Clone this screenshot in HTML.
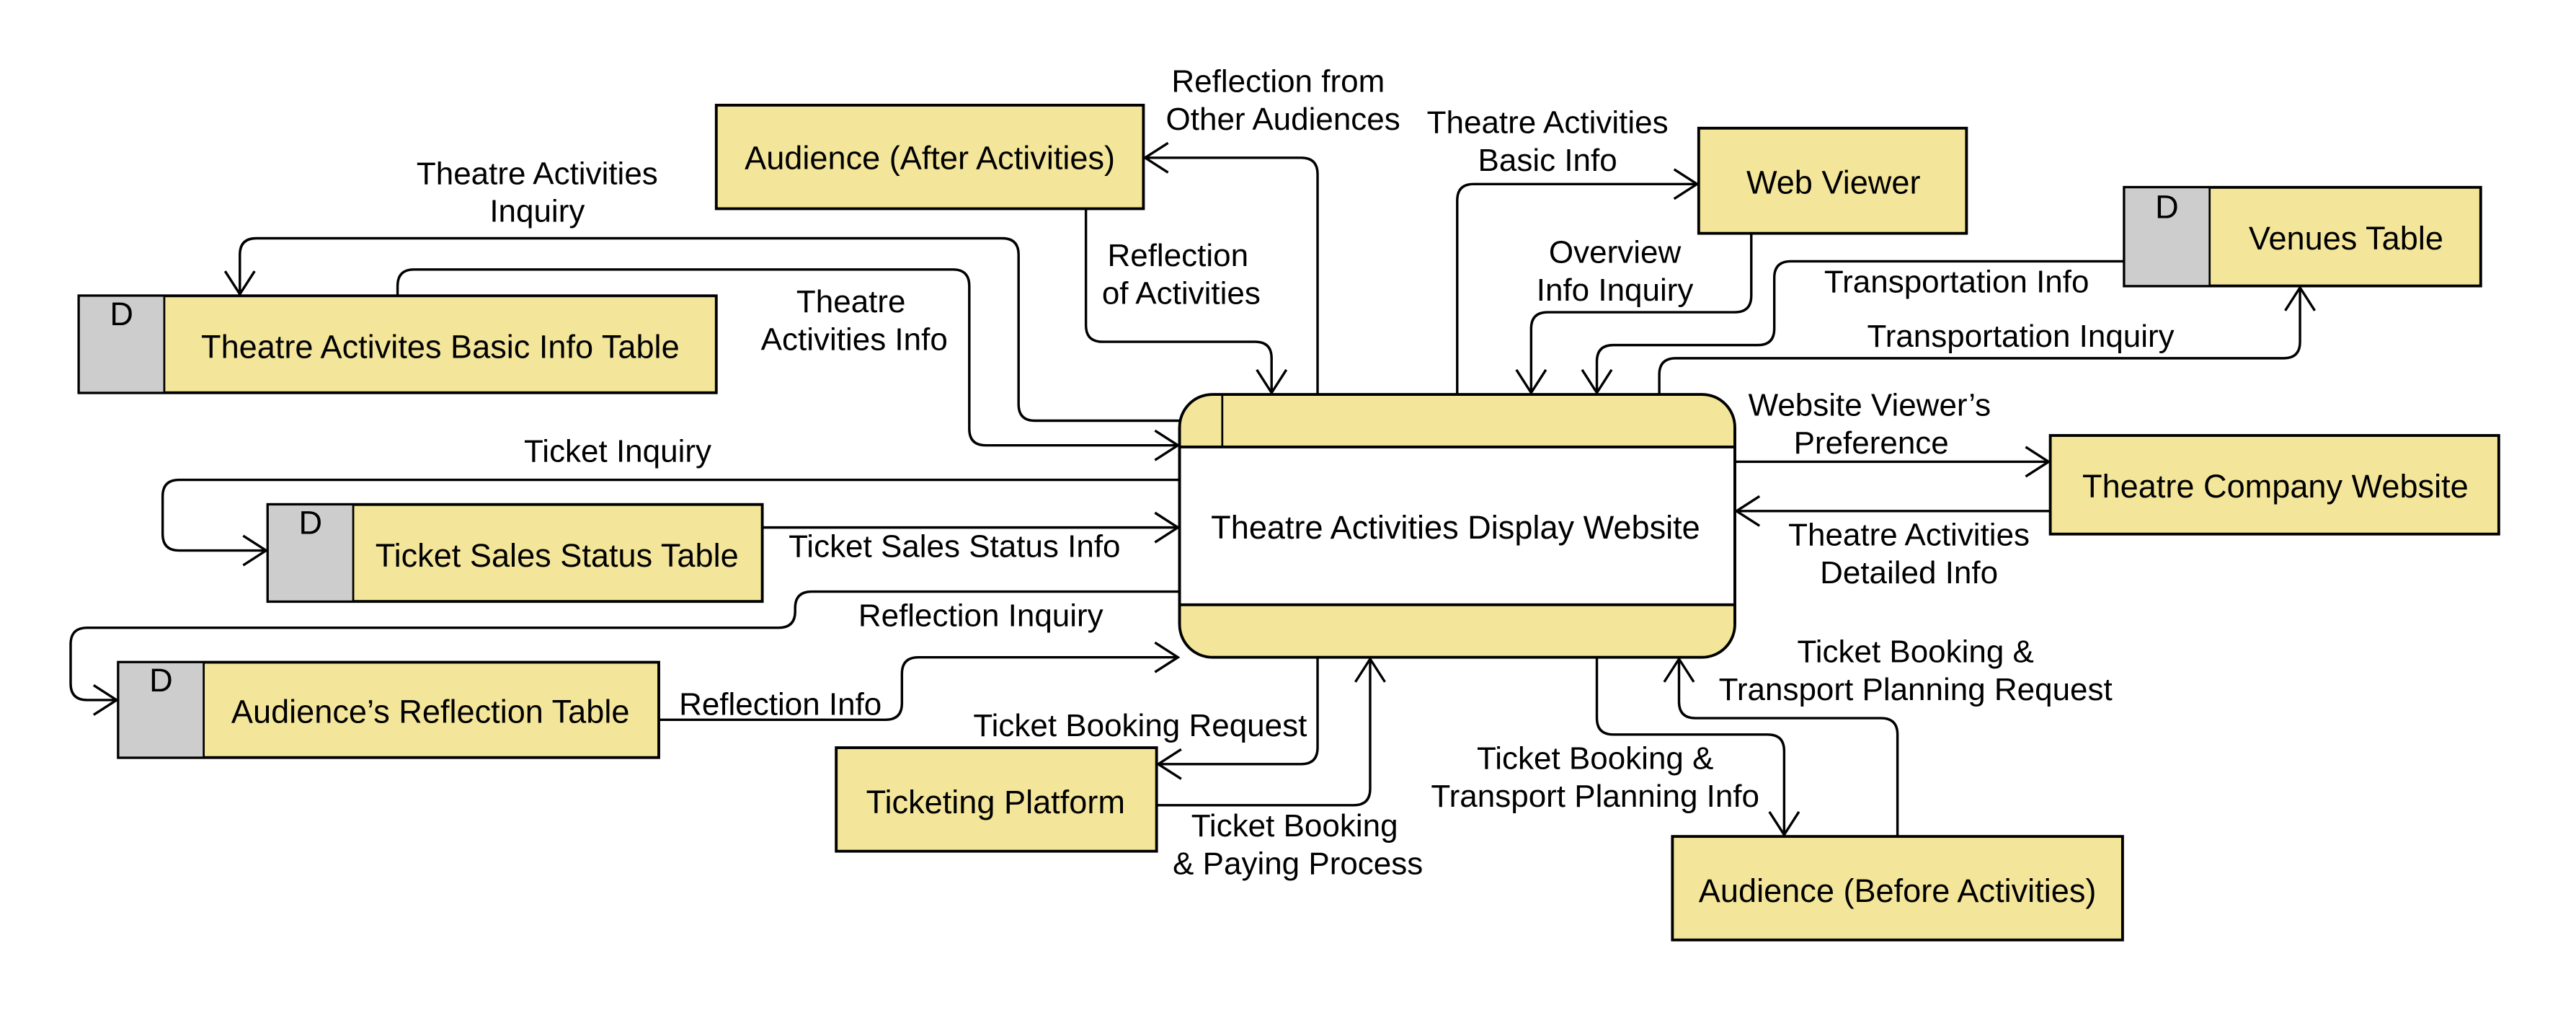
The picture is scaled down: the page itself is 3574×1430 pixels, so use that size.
<!DOCTYPE html>
<html><head><meta charset="utf-8"><style>
html,body{margin:0;padding:0;background:#fff;}
svg{display:block;}
text{font-family:"Liberation Sans",Arial,sans-serif;fill:#000;}
.l{font-size:19.3px;text-anchor:middle;}
.n{font-size:19.8px;text-anchor:middle;dominant-baseline:central;}
.c{fill:none;stroke:#000;stroke-width:1.5;stroke-linejoin:round;marker-end:url(#a);}
.b{fill:#f3e69a;stroke:#000;stroke-width:1.7;}
.d{fill:#cdcdcd;stroke:#000;stroke-width:1.2;}
</style></head><body>
<svg width="3574" height="1430" viewBox="0 0 1568 627.4" preserveAspectRatio="none" xmlns="http://www.w3.org/2000/svg">
<defs>
<marker id="a" markerUnits="userSpaceOnUse" viewBox="-18 -12 20 24" refX="0" refY="0" markerWidth="20" markerHeight="24" orient="auto">
<path d="M-14,-9 L0,0 L-14,9" fill="none" stroke="#000" stroke-width="1.5"/>
</marker>
</defs>

<path class="c" d="M802,240 V106 Q802,96 792,96 H697"/>
<path class="c" d="M661,127 V198 Q661,208 671,208 H764 Q774,208 774,218 V239"/>
<path class="c" d="M718,256 H630 Q620,256 620,246 V155 Q620,145 610,145 H156 Q146,145 146,155 V179"/>
<path class="c" d="M242,180 V174 Q242,164 252,164 H580 Q590,164 590,174 V261 Q590,271 600,271 H717"/>
<path class="c" d="M718,292 H109 Q99,292 99,302 V325 Q99,335 109,335 H162"/>
<path class="c" d="M464,321 H717"/>
<path class="c" d="M718,360 H494 Q484,360 484,370 V372 Q484,382 474,382 H53 Q43,382 43,392 V416 Q43,426 53,426 H71"/>
<path class="c" d="M401,438 H539 Q549,438 549,428 V410 Q549,400 559,400 H717"/>
<path class="c" d="M802,400 V455 Q802,465 792,465 H705"/>
<path class="c" d="M704,490 H824 Q834,490 834,480 V401"/>
<path class="c" d="M972,400 V437 Q972,447 982,447 H1076 Q1086,447 1086,457 V508"/>
<path class="c" d="M1155,509 V447 Q1155,437 1145,437 H1032 Q1022,437 1022,427 V401"/>
<path class="c" d="M1056,281 H1247"/>
<path class="c" d="M1248,311 H1057"/>
<path class="c" d="M887,240 V122 Q887,112 897,112 H1033"/>
<path class="c" d="M1066,142 V180 Q1066,190 1056,190 H942 Q932,190 932,200 V239"/>
<path class="c" d="M1293,159 H1090 Q1080,159 1080,169 V200 Q1080,210 1070,210 H982 Q972,210 972,220 V239"/>
<path class="c" d="M1010,240 V228 Q1010,218 1020,218 H1390 Q1400,218 1400,208 V175"/>

<rect class="b" x="436" y="64" width="260" height="63"/>
<text class="n" x="566" y="96">Audience (After Activities)</text>

<rect class="b" x="48" y="180" width="388" height="59"/>
<rect class="d" x="48" y="180" width="52" height="59"/>
<text class="n" x="74" y="191">D</text>
<text class="n" x="268" y="211">Theatre Activites Basic Info Table</text>

<rect class="b" x="163" y="307" width="301" height="59"/>
<rect class="d" x="163" y="307" width="52" height="59"/>
<text class="n" x="189" y="318">D</text>
<text class="n" x="339" y="338">Ticket Sales Status Table</text>

<rect class="b" x="72" y="403" width="329" height="58"/>
<rect class="d" x="72" y="403" width="52" height="58"/>
<text class="n" x="98" y="414">D</text>
<text class="n" x="262" y="433">Audience’s Reflection Table</text>

<rect class="b" x="509" y="455" width="195" height="63"/>
<text class="n" x="606" y="488">Ticketing Platform</text>

<rect class="b" x="1034" y="78" width="163" height="64"/>
<text class="n" x="1116" y="111">Web Viewer</text>

<rect class="b" x="1293" y="114" width="217" height="60"/>
<rect class="d" x="1293" y="114" width="52" height="60"/>
<text class="n" x="1319" y="126">D</text>
<text class="n" x="1428" y="145">Venues Table</text>

<rect class="b" x="1248" y="265" width="273" height="60"/>
<text class="n" x="1385" y="296">Theatre Company Website</text>

<rect class="b" x="1018" y="509" width="274" height="63"/>
<text class="n" x="1155" y="542">Audience (Before Activities)</text>

<rect x="718" y="240" width="338" height="160" rx="20" ry="20" fill="#f3e69a" stroke="#000" stroke-width="1.7"/>
<rect x="718.9" y="272" width="336.2" height="96" fill="#fff"/>
<line x1="718" y1="272" x2="1056" y2="272" stroke="#000" stroke-width="1.7"/>
<line x1="718" y1="368" x2="1056" y2="368" stroke="#000" stroke-width="1.7"/>
<line x1="744" y1="240" x2="744" y2="272" stroke="#000" stroke-width="1.2"/>
<line x1="718" y1="260" x2="718" y2="380" stroke="#000" stroke-width="1.7"/>
<line x1="1056" y1="260" x2="1056" y2="380" stroke="#000" stroke-width="1.7"/>
<text class="n" x="886" y="321">Theatre Activities Display Website</text>

<text class="l" x="778" y="56">Reflection from</text>
<text class="l" x="781" y="79">Other Audiences</text>
<text class="l" x="942" y="81">Theatre Activities</text>
<text class="l" x="942" y="104">Basic Info</text>
<text class="l" x="327" y="112">Theatre Activities</text>
<text class="l" x="327" y="135">Inquiry</text>
<text class="l" x="717" y="162">Reflection</text>
<text class="l" x="719" y="185">of Activities</text>
<text class="l" x="518" y="190">Theatre</text>
<text class="l" x="520" y="213">Activities Info</text>
<text class="l" x="983" y="160">Overview</text>
<text class="l" x="983" y="183">Info Inquiry</text>
<text class="l" x="1191" y="178">Transportation Info</text>
<text class="l" x="1230" y="211">Transportation Inquiry</text>
<text class="l" x="1138" y="253">Website Viewer’s</text>
<text class="l" x="1139" y="276">Preference</text>
<text class="l" x="1162" y="332">Theatre Activities</text>
<text class="l" x="1162" y="355">Detailed Info</text>
<text class="l" x="376" y="281">Ticket Inquiry</text>
<text class="l" x="581" y="339">Ticket Sales Status Info</text>
<text class="l" x="597" y="381">Reflection Inquiry</text>
<text class="l" x="475" y="435">Reflection Info</text>
<text class="l" x="694" y="448">Ticket Booking Request</text>
<text class="l" x="788" y="509">Ticket Booking</text>
<text class="l" x="790" y="532">&amp; Paying Process</text>
<text class="l" x="1166" y="403">Ticket Booking &amp;</text>
<text class="l" x="1166" y="426">Transport Planning Request</text>
<text class="l" x="971" y="468">Ticket Booking &amp;</text>
<text class="l" x="971" y="491">Transport Planning Info</text>
</svg>
</body></html>
